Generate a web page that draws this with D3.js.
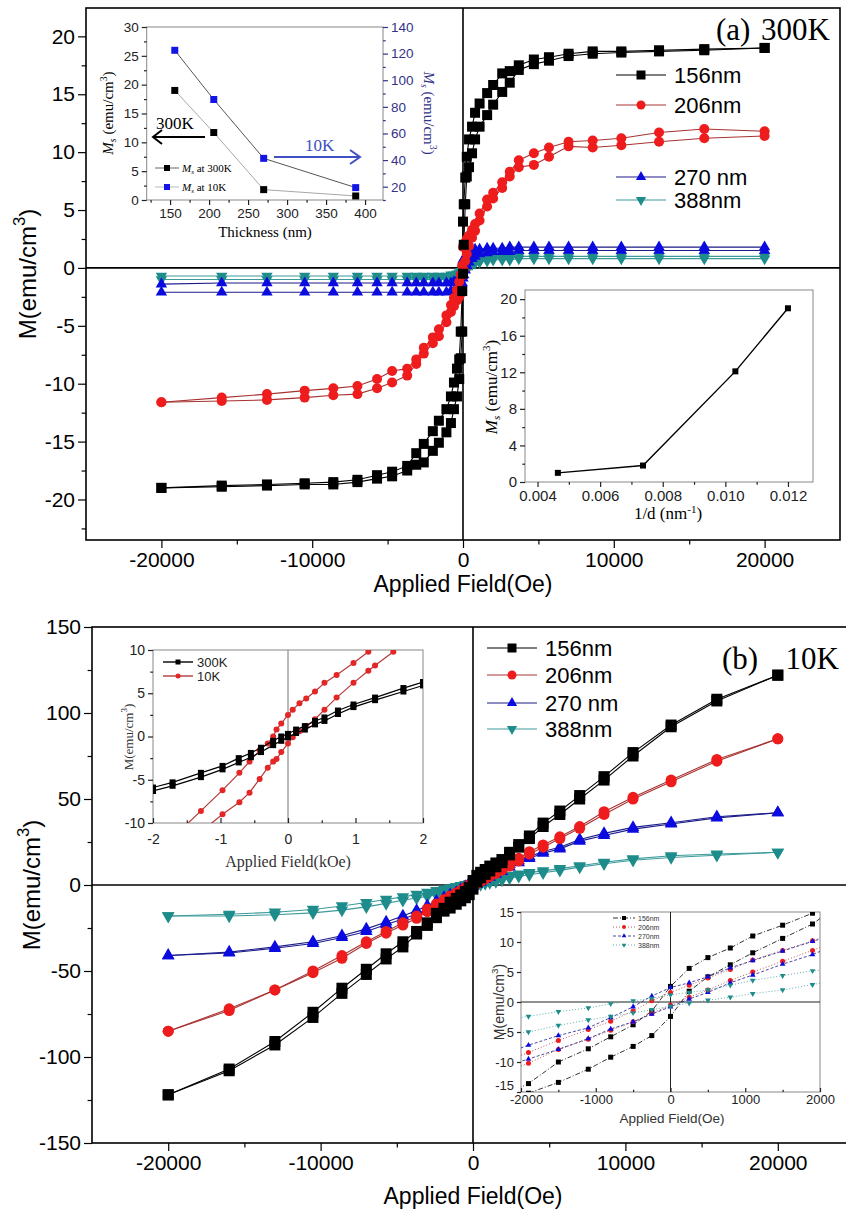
<!DOCTYPE html>
<html>
<head>
<meta charset="utf-8">
<script src="https://cdn.jsdelivr.net/npm/d3@7"></script>
<style>
  body { margin: 0; background: #fff; }
  text { font-family: "Liberation Sans", Arial, sans-serif; }
  .serif { font-family: "Liberation Serif", "Times New Roman", serif; }
</style>
</head>
<body>
<svg id="chart"></svg>
<script>
// ---------- data ----------
// (a) 300K loops, field in Oe (descending order), M in emu/cm3
let fieldsA = [20000, 16000, 13000, 10500, 8600, 7000, 5700, 4700, 3700, 3100, 2600, 2000, 1600, 1100, 800, 600, 400, 250, 150, 50, 0,
               -50, -150, -250, -400, -600, -800, -1100, -1600, -2000, -2600, -3100, -3700, -4700, -5700, -7000, -8600, -10500, -13000, -16000, -20000];
let m156aDown = [19.0, 18.9, 18.8, 18.7, 18.7, 18.5, 18.2, 18.0, 17.5, 17.0, 16.8, 15.8, 15.1, 14.2, 13.4, 12.2, 11.1, 9.6, 7.8, 5.5, 4.0,
                 -2.0, -5.5, -7.9, -8.7, -9.9, -11.1, -12.2, -13.2, -14.1, -15.2, -16.0, -17.1, -17.6, -17.9, -18.3, -18.5, -18.6, -18.7, -18.8, -19.0];
let m156aUp = [19.0, 18.8, 18.7, 18.6, 18.5, 18.3, 17.9, 17.6, 17.1, 16.0, 15.2, 14.1, 13.2, 12.2, 11.1, 9.9, 8.7, 7.9, 5.5, 2.0, -0.5,
               -5.5, -7.8, -9.6, -11.1, -12.2, -13.4, -14.2, -15.1, -15.8, -16.8, -17.0, -17.5, -18.0, -18.2, -18.5, -18.7, -18.7, -18.8, -18.9, -19.0];
let m206aDown = [11.8, 12.0, 11.7, 11.2, 11.0, 10.9, 10.4, 9.9, 9.3, 8.3, 7.4, 6.5, 5.9, 4.7, 3.8, 3.3, 2.8, 2.5, 2.2, 2.0, 1.8,
                 0.2, -0.6, -1.2, -1.9, -2.6, -3.2, -4.1, -5.3, -6.0, -6.9, -7.9, -8.7, -8.9, -9.6, -10.2, -10.4, -10.6, -10.9, -11.2, -11.6];
let m206aUp = [11.4, 11.2, 10.9, 10.6, 10.4, 10.5, 9.6, 8.9, 8.7, 7.9, 6.9, 6.0, 5.3, 4.1, 3.2, 2.6, 1.9, 1.2, 0.6, -0.2, -0.6,
               -2.0, -2.2, -2.5, -2.8, -3.3, -3.8, -4.7, -5.9, -6.5, -7.4, -8.3, -9.3, -9.9, -10.4, -10.9, -11.0, -11.2, -11.4, -11.5, -11.6];
let m270aDown = [1.8, 1.8, 1.8, 1.8, 1.8, 1.8, 1.8, 1.8, 1.8, 1.8, 1.7, 1.7, 1.7, 1.6, 1.6, 1.5, 1.4, 1.2, 1.0, 0.8, 0.6,
                 -0.2, -0.6, -0.9, -1.1, -1.2, -1.3, -1.3, -1.3, -1.3, -1.3, -1.3, -1.3, -1.3, -1.3, -1.3, -1.3, -1.3, -1.3, -1.3, -1.4];
let m270aUp = [1.5, 1.5, 1.5, 1.5, 1.5, 1.5, 1.5, 1.5, 1.5, 1.4, 1.4, 1.4, 1.3, 1.2, 1.0, 0.8, 0.5, 0.2, -0.2, -0.6, -0.9,
               -1.3, -1.6, -1.8, -1.9, -2.0, -2.0, -2.1, -2.1, -2.1, -2.1, -2.1, -2.1, -2.1, -2.1, -2.1, -2.1, -2.1, -2.1, -2.1, -2.1];
let m388aDown = [1.0, 1.0, 1.0, 1.0, 1.0, 1.0, 1.0, 1.0, 1.0, 1.0, 0.9, 0.9, 0.9, 0.8, 0.8, 0.7, 0.6, 0.5, 0.4, 0.3, 0.2,
                 -0.1, -0.3, -0.4, -0.5, -0.6, -0.6, -0.7, -0.7, -0.7, -0.7, -0.7, -0.7, -0.7, -0.7, -0.7, -0.7, -0.7, -0.7, -0.7, -0.7];
let m388aUp = [0.8, 0.8, 0.8, 0.8, 0.8, 0.8, 0.8, 0.8, 0.8, 0.7, 0.7, 0.7, 0.6, 0.5, 0.4, 0.3, 0.1, 0.0, -0.2, -0.4, -0.5,
               -0.7, -0.8, -0.9, -0.9, -1.0, -1.0, -1.0, -1.0, -1.0, -1.0, -1.0, -1.0, -1.0, -1.0, -1.0, -1.0, -1.0, -1.0, -1.0, -1.0];

// (b) 10K loops
let fieldsB = [20000, 16000, 13000, 10500, 8600, 7000, 5700, 4600, 3700, 3000, 2400, 1900, 1500, 1100, 800, 500, 250, 0,
               -250, -500, -800, -1100, -1500, -1900, -2400, -3000, -3700, -4600, -5700, -7000, -8600, -10500, -13000, -16000, -20000];
let m156bDown = [122, 108, 93, 77, 63, 52, 43, 36, 28.5, 23.5, 19, 14.8, 12.8, 11.0, 9.0, 7.4, 5.6, 2.6,
                 -1.5, -3.8, -5.8, -7.8, -10.0, -13.6, -16.5, -22, -27, -33, -40, -49, -60, -74, -91, -107, -122];
let m156bUp = [122, 107, 92, 75, 61, 50, 41, 34, 27, 22, 17.5, 13.0, 10.6, 8.2, 6.2, 4.2, 1.8, -2.4,
               -5.6, -7.4, -9.2, -11.2, -13.4, -15.2, -19, -23.5, -28.5, -36, -43, -52, -63, -77, -93, -108, -122];
let m206bDown = [85, 73, 61, 51, 42.6, 34, 28, 23.3, 19.4, 15.5, 12.5, 10.2, 8.6, 7.0, 5.4, 4.0, 2.8, 1.6,
                 0.2, -1.5, -3.2, -4.6, -6.4, -8.4, -11, -14, -18, -22, -27, -33, -41, -50, -61, -72, -85];
let m206bUp = [85, 72, 60, 50, 41, 33, 27, 22, 18, 14, 11, 8.6, 6.8, 5.0, 3.6, 2.0, 0.8, -0.5,
               -1.9, -3.3, -4.7, -6.2, -7.9, -10.2, -12.5, -15.5, -19.4, -23.3, -28, -34, -42.6, -51, -61, -73, -85];
let m270bDown = [42, 39.7, 36.2, 33.5, 30, 26.5, 22, 19.5, 16.5, 14.2, 12, 10.1, 8.5, 6.9, 5.7, 4.2, 3.2, 2.4,
                 1.0, -0.8, -2.6, -4.3, -5.6, -7.2, -9.5, -12, -14.8, -18, -21.5, -25.5, -29.5, -33, -36, -39, -41];
let m270bUp = [42, 39, 35.5, 32.5, 28.8, 25.5, 21, 18.5, 15.5, 13, 10.5, 7.9, 6.3, 4.5, 3.2, 1.6, 0.5, -0.8,
               -2.0, -3.3, -4.5, -6.1, -7.9, -9.5, -11.5, -14, -16.8, -19.8, -23, -27, -30.5, -34, -36.8, -39.5, -41];
let m388bDown = [19, 18, 17, 15.2, 13.2, 11.2, 9.5, 8.2, 7.2, 6.3, 5.6, 5.2, 4.4, 3.6, 2.8, 2.0, 1.6, 1.2,
                 0.6, 0.2, -0.3, -1.0, -1.6, -2.4, -3.3, -4.3, -5.5, -6.9, -8.4, -10.2, -12.2, -14.2, -15.8, -17, -18];
let m388bUp = [19, 17.3, 16, 14.4, 12.4, 10.4, 8.5, 7.1, 6.0, 5.0, 4.0, 2.9, 2.0, 1.4, 0.8, 0.3, -0.2, -0.7,
               -1.3, -1.8, -2.4, -3.0, -3.9, -5.0, -5.8, -6.6, -7.6, -8.9, -10.7, -12.7, -14.6, -16.2, -17.3, -18, -18];

// inset (a) top: Ms vs thickness
let thickness = [156, 206, 270, 388];
let ms300 = [19.0, 11.7, 1.8, 0.7];
let ms10 = [122.5, 85.5, 41.3, 19.3];

// inset (a) bottom: Ms vs 1/d
let invD = [0.00465, 0.00737, 0.01032, 0.0120];
let msInv = [1.0, 1.8, 12.1, 19.0];

// inset (b) top: 300K vs 10K, field in kOe
let fieldsK300 = [2, 1.71, 1.29, 0.97, 0.74, 0.54, 0.4, 0.25, 0.12, 0, -0.1, -0.22, -0.4, -0.55, -0.73, -0.97, -1.29, -1.71, -2];
let m300Down = [6.3, 5.6, 4.5, 3.7, 3.0, 2.2, 1.8, 1.2, 0.8, 0.3, 0.0, -0.5, -1.3, -1.9, -2.5, -3.4, -4.2, -5.3, -5.9];
let m300Up = [5.9, 5.2, 4.2, 3.4, 2.6, 1.8, 1.4, 0.8, 0.4, -0.1, -0.5, -1.0, -1.8, -2.4, -3.0, -3.8, -4.7, -5.7, -6.3];
let fieldsK10 = [2, 1.56, 1.29, 1.19, 0.97, 0.72, 0.54, 0.4, 0.27, 0.17, 0.07, 0, -0.1, -0.17, -0.22, -0.3, -0.42, -0.57, -0.72, -0.97, -1.29, -1.56, -2];
let m10Down = [13.5, 11.4, 10.4, 9.8, 8.5, 7.1, 6.2, 5.2, 4.4, 3.85, 3.1, 2.5, 1.5, 0.8, 0.0, -0.8, -1.6, -2.9, -4.2, -6.2, -8.6, -10.6, -13.5];
let m10Up = [12.8, 9.8, 8.2, 7.6, 6.2, 4.5, 3.1, 2.0, 1.2, 0.6, -0.1, -0.8, -1.8, -2.6, -2.9, -3.6, -4.9, -6.5, -7.6, -9.0, -11.0, -12.2, -14.0];

let seriesNames = ['156nm', '206nm', '270 nm', '388nm'];
let seriesNamesInset = ['156nm', '206nm', '270nm', '388nm'];

// ---------- styles ----------
let styles = [
  { type: 'square', fill: '#000000', line: '#000000' },
  { type: 'circle', fill: '#ee1c1c', line: '#a83232' },
  { type: 'up',     fill: '#0b0be0', line: '#1c1c8a' },
  { type: 'down',   fill: '#1f8c8c', line: '#3c9a9a' }
];
let seriesA = [[m156aDown, m156aUp], [m206aDown, m206aUp], [m270aDown, m270aUp], [m388aDown, m388aUp]];
let seriesB = [[m156bDown, m156bUp], [m206bDown, m206bUp], [m270bDown, m270bUp], [m388bDown, m388bUp]];

let width = 846;
let height = 1214;
let svg = d3.select('#chart').attr('width', width).attr('height', height);

let plain = d => String(d);   // "-20000", plain hyphen, no grouping

let sym = (type, s) => {
  if (type === 'square') return d3.symbol(d3.symbolSquare, s * s)();
  if (type === 'circle') return d3.symbol(d3.symbolCircle, Math.PI * s * s / 4)();
  return d3.symbol(d3.symbolTriangle, 0.56 * s * s)();
};

let drawMarkers = (g, pts, x, y, st, size) => {
  g.selectAll(null)
   .data(pts)
   .enter()
   .append('path')
   .attr('d', sym(st.type, size))
   .attr('transform', d => `translate(${x(d[0])},${y(d[1])})` + (st.type === 'down' ? ' rotate(180)' : ''))
   .attr('fill', st.fill);
};

let drawLine = (g, pts, x, y, color, w, dash) => {
  let line = d3.line().x(d => x(d[0])).y(d => y(d[1]));
  g.append('path')
   .attr('d', line(pts))
   .attr('fill', 'none')
   .attr('stroke', color)
   .attr('stroke-width', w)
   .attr('stroke-dasharray', dash || null);
};

// axis helper: major ticks with labels, minor ticks without
let drawAxis = (g, axisFn, scale, pos, major, minor, size, fontSize, color, fmt) => {
  let ga = g.append('g');
  if (axisFn === d3.axisLeft || axisFn === d3.axisRight) ga.attr('transform', `translate(${pos},0)`);
  else ga.attr('transform', `translate(0,${pos})`);
  let ax = axisFn(scale).tickValues(major).tickSize(size).tickSizeOuter(0).tickPadding(3).tickFormat(fmt || plain);
  ga.call(ax);
  let gm = g.append('g').attr('transform', ga.attr('transform'));
  gm.call(axisFn(scale).tickValues(minor).tickSize(size * 0.55).tickSizeOuter(0).tickFormat(''));
  [ga, gm].forEach(s => {
    s.select('.domain').remove();
    s.selectAll('line').attr('stroke', color).attr('stroke-width', 1.2);
  });
  ga.selectAll('text')
    .attr('font-size', fontSize)
    .attr('fill', color)
    .style('font-family', '"Liberation Sans", Arial, sans-serif');
  return ga;
};

let yLabel = (g, x, y, size, rot, cls, color) => {
  let t = g.append('text')
           .attr('transform', `translate(${x},${y}) rotate(${rot})`)
           .attr('text-anchor', 'middle')
           .attr('font-size', size)
           .attr('fill', color || '#000');
  if (cls) t.attr('class', cls);
  return t;
};

let msLabel = (t, size) => {
  t.append('tspan').attr('font-style', 'italic').text('M');
  t.append('tspan').attr('font-style', 'italic').attr('font-size', size * 0.65).attr('dy', 3).text('s');
  t.append('tspan').attr('dy', -3).text(' (emu/cm');
  t.append('tspan').attr('font-size', size * 0.65).attr('dy', -size * 0.4).text('3');
  t.append('tspan').attr('dy', size * 0.4).text(')');
};

let mLabel = (t, size) => {
  t.append('tspan').text('M(emu/cm');
  t.append('tspan').attr('font-size', size * 0.7).attr('dy', -size * 0.45).text('3');
  t.append('tspan').attr('dy', size * 0.45).text(')');
};

// ---------- main panels ----------
let drawMain = (cfg) => {
  let g = svg.append('g');
  let x = cfg.x, y = cfg.y;
  let [x0, x1] = x.range();
  let [y1, y0] = y.range();
  let clipId = cfg.id + '-clip';
  svg.append('clipPath').attr('id', clipId)
     .append('rect').attr('x', x0).attr('y', y0).attr('width', x1 - x0).attr('height', y1 - y0);

  g.append('line').attr('x1', x0).attr('x2', x1).attr('y1', y(0)).attr('y2', y(0)).attr('stroke', '#000').attr('stroke-width', 1.6);
  g.append('line').attr('x1', x(0)).attr('x2', x(0)).attr('y1', y0).attr('y2', y1).attr('stroke', '#000').attr('stroke-width', 1.6);

  let gd = g.append('g').attr('clip-path', `url(#${clipId})`);
  cfg.series.forEach((s, i) => {
    let st = styles[i];
    let down = cfg.fields.map((f, k) => [f, s[0][k]]);
    let up = cfg.fields.map((f, k) => [f, s[1][k]]);
    drawLine(gd, down, x, y, st.line, 1.1);
    drawLine(gd, up, x, y, st.line, 1.1);
  });
  cfg.series.slice().reverse().forEach((s, j) => {
    let st = styles[3 - j];
    drawMarkers(gd, cfg.fields.map((f, k) => [f, s[1][k]]), x, y, st, cfg.msize);
    drawMarkers(gd, cfg.fields.map((f, k) => [f, s[0][k]]), x, y, st, cfg.msize);
  });

  g.append('rect').attr('x', x0).attr('y', y0).attr('width', x1 - x0).attr('height', y1 - y0)
   .attr('fill', 'none').attr('stroke', '#000').attr('stroke-width', 1.6);

  drawAxis(g, d3.axisLeft, y, x0, cfg.yMajor, cfg.yMinor, 8, 21, '#000');
  let gx = drawAxis(g, d3.axisBottom, x, y1, [-20000, -10000, 0, 10000, 20000], [-15000, -5000, 5000, 15000], 8, 21, '#000');
  gx.selectAll('text').attr('dy', '0.78em');

  g.append('text').attr('x', x(0)).attr('y', cfg.titleY).attr('text-anchor', 'middle')
   .attr('font-size', 23).text('Applied Field(Oe)');
  mLabel(yLabel(g, cfg.yLabX, (y0 + y1) / 2, 24, -90), 24);

  // legend
  cfg.legendY.forEach((ly, i) => {
    let st = styles[i];
    g.append('line').attr('x1', cfg.legendX).attr('x2', cfg.legendX + 50).attr('y1', ly).attr('y2', ly)
     .attr('stroke', st.line).attr('stroke-width', 1.2);
    drawMarkers(g, [[0, 0]], () => cfg.legendX + 25, () => ly, st, 9);
    g.append('text').attr('x', cfg.legendX + 58).attr('y', ly + 7.5).attr('font-size', 22).text(seriesNames[i]);
  });

  g.append('text').attr('class', 'serif').attr('x', cfg.tagX).attr('y', cfg.tagY).attr('font-size', 31).text(cfg.tag);
  g.append('text').attr('class', 'serif').attr('x', cfg.tagEnd).attr('y', cfg.tagY).attr('text-anchor', 'end')
   .attr('font-size', 31).text(cfg.temp);
  return g;
};

let xA = d3.scaleLinear().domain([-25000, 25000]).range([86, 840]);
let yA = d3.scaleLinear().domain([-23.5, 22.45]).range([540, 8]);
drawMain({
  id: 'pa', x: xA, y: yA, fields: fieldsA, series: seriesA, msize: 10,
  yMajor: [-20, -15, -10, -5, 0, 5, 10, 15, 20],
  yMinor: [-22.5, -17.5, -12.5, -7.5, -2.5, 2.5, 7.5, 12.5, 17.5],
  titleY: 592, yLabX: 36,
  legendX: 616, legendY: [75, 105, 177, 200],
  tag: '(a)', temp: '300K', tagX: 716, tagEnd: 830, tagY: 40
});

let xB = d3.scaleLinear().domain([-25000, 25000]).range([92, 854]);
let yB = d3.scaleLinear().domain([-150, 150]).range([1143, 627]);
drawMain({
  id: 'pb', x: xB, y: yB, fields: fieldsB, series: seriesB, msize: 11,
  yMajor: [-150, -100, -50, 0, 50, 100, 150],
  yMinor: [-125, -75, -25, 25, 75, 125],
  titleY: 1204, yLabX: 40,
  legendX: 487, legendY: [648, 675, 703, 729],
  tag: '(b)', temp: '10K', tagX: 722, tagEnd: 839, tagY: 669
});

// ---------- inset (a) top: Ms vs thickness ----------
{
  let g = svg.append('g');
  let x = d3.scaleLinear().domain([120, 423]).range([146.7, 383]);
  let yl = d3.scaleLinear().domain([0, 30]).range([200, 27]);
  let yr = d3.scaleLinear().domain([10, 140]).range([200, 27]);
  g.append('rect').attr('x', 146.7).attr('y', 27).attr('width', 383 - 146.7).attr('height', 173)
   .attr('fill', '#fff').attr('stroke', '#888').attr('stroke-width', 1);
  drawAxis(g, d3.axisLeft, yl, 146.7, [0, 5, 10, 15, 20, 25, 30], [2.5, 7.5, 12.5, 17.5, 22.5, 27.5], 5, 13.5, '#222');
  drawAxis(g, d3.axisRight, yr, 383, [20, 40, 60, 80, 100, 120, 140], [10, 30, 50, 70, 90, 110, 130], 5, 13.5, '#33338a');
  drawAxis(g, d3.axisBottom, x, 200, [150, 200, 250, 300, 350, 400], [125, 175, 225, 275, 325, 375], 5, 13.5, '#222');

  let p300 = thickness.map((t, i) => [t, ms300[i]]);
  let p10 = thickness.map((t, i) => [t, ms10[i]]);
  drawLine(g, p300, x, yl, '#a8a8a8', 1);
  drawLine(g, p10, x, yr, '#555', 1);
  drawMarkers(g, p300, x, yl, { type: 'square', fill: '#000' }, 7);
  drawMarkers(g, p10, x, yr, { type: 'square', fill: '#1414e6' }, 7);

  // legend
  [[168, '#000', '#666', 'at 300K'], [187, '#1414e6', '#bbb', 'at 10K']].forEach(([ly, c, lc, txt]) => {
    g.append('line').attr('x1', 155).attr('x2', 179).attr('y1', ly).attr('y2', ly).attr('stroke', lc);
    drawMarkers(g, [[0, 0]], () => 167, () => ly, { type: 'square', fill: c }, 6);
    let t = g.append('text').attr('class', 'serif').attr('x', 182).attr('y', ly + 4).attr('font-size', 11);
    t.append('tspan').attr('font-style', 'italic').text('M');
    t.append('tspan').attr('font-style', 'italic').attr('font-size', 7).attr('dy', 2).text('s');
    t.append('tspan').attr('dy', -2).text(' ' + txt);
  });

  // arrows and temperature tags
  g.append('text').attr('class', 'serif').attr('x', 156).attr('y', 129).attr('font-size', 17).text('300K');
  g.append('line').attr('x1', 205).attr('x2', 154).attr('y1', 137).attr('y2', 137).attr('stroke', '#000').attr('stroke-width', 2);
  g.append('path').attr('d', 'M162,130 L153,137 L162,144').attr('fill', 'none').attr('stroke', '#000').attr('stroke-width', 2);
  g.append('text').attr('class', 'serif').attr('x', 305).attr('y', 151).attr('font-size', 17).attr('fill', '#4050c0').text('10K');
  g.append('line').attr('x1', 274).attr('x2', 359).attr('y1', 157).attr('y2', 157).attr('stroke', '#4050c0').attr('stroke-width', 2);
  g.append('path').attr('d', 'M350,150 L360,157 L350,164').attr('fill', 'none').attr('stroke', '#4050c0').attr('stroke-width', 2);

  g.append('text').attr('class', 'serif').attr('x', 265).attr('y', 237).attr('text-anchor', 'middle')
   .attr('font-size', 15).text('Thickness (nm)');
  msLabel(yLabel(g, 113, 113, 15, -90, 'serif'), 15);
  msLabel(yLabel(g, 424, 113, 15, 90, 'serif', '#33338a'), 15);
}

// ---------- inset (a) bottom: Ms vs 1/d ----------
{
  let g = svg.append('g');
  let x = d3.scaleLinear().domain([0.0036, 0.0128]).range([525, 813]);
  let y = d3.scaleLinear().domain([0, 21]).range([482, 290]);
  g.append('rect').attr('x', 525).attr('y', 290).attr('width', 288).attr('height', 192)
   .attr('fill', '#fff').attr('stroke', '#888').attr('stroke-width', 1);
  drawAxis(g, d3.axisLeft, y, 525, [0, 4, 8, 12, 16, 20], [2, 6, 10, 14, 18], 5, 15, '#222');
  drawAxis(g, d3.axisBottom, x, 482, [0.004, 0.006, 0.008, 0.010, 0.012], [0.005, 0.007, 0.009, 0.011], 5, 15, '#222', d3.format('.3f'));
  let pts = invD.map((v, i) => [v, msInv[i]]);
  drawLine(g, pts, x, y, '#000', 1.4);
  drawMarkers(g, pts, x, y, { type: 'square', fill: '#000' }, 6);
  let t = g.append('text').attr('class', 'serif').attr('x', 668).attr('y', 519).attr('text-anchor', 'middle').attr('font-size', 17);
  t.append('tspan').text('1/d (nm');
  t.append('tspan').attr('font-size', 11).attr('dy', -6).text('-1');
  t.append('tspan').attr('dy', 6).text(')');
  msLabel(yLabel(g, 497, 387, 17, -90, 'serif'), 17);
}

// ---------- inset (b) top: 300K vs 10K ----------
{
  let g = svg.append('g');
  let x = d3.scaleLinear().domain([-2, 2]).range([153, 423]);
  let y = d3.scaleLinear().domain([-10, 10]).range([823, 650]);
  g.append('rect').attr('x', 153).attr('y', 650).attr('width', 270).attr('height', 173)
   .attr('fill', '#fff').attr('stroke', '#888').attr('stroke-width', 1);
  svg.append('clipPath').attr('id', 'ib1').append('rect').attr('x', 153).attr('y', 650).attr('width', 270).attr('height', 173);
  g.append('line').attr('x1', x(0)).attr('x2', x(0)).attr('y1', 650).attr('y2', 823).attr('stroke', '#777').attr('stroke-width', 1);
  drawAxis(g, d3.axisLeft, y, 153, [-10, -5, 0, 5, 10], [-7.5, -2.5, 2.5, 7.5], 5, 14, '#222');
  drawAxis(g, d3.axisBottom, x, 823, [-2, -1, 0, 1, 2], [-1.5, -0.5, 0.5, 1.5], -5, 14, '#222')
    .selectAll('text').attr('dy', '1.25em');
  let gd = g.append('g').attr('clip-path', 'url(#ib1)');
  let red = { type: 'circle', fill: '#e32626' };
  let blk = { type: 'square', fill: '#000' };
  [m10Down, m10Up].forEach(m => {
    let pts = fieldsK10.map((f, i) => [f, m[i]]);
    drawLine(gd, pts, x, y, '#b53a3a', 1.2);
    drawMarkers(gd, pts, x, y, red, 6);
  });
  [m300Down, m300Up].forEach(m => {
    let pts = fieldsK300.map((f, i) => [f, m[i]]);
    drawLine(gd, pts, x, y, '#000', 1.2);
    drawMarkers(gd, pts, x, y, blk, 6);
  });
  [[662, blk, '#000', '300K'], [676, red, '#b53a3a', '10K']].forEach(([ly, st, lc, txt]) => {
    g.append('line').attr('x1', 163).attr('x2', 193).attr('y1', ly).attr('y2', ly).attr('stroke', lc).attr('stroke-width', 1.4);
    drawMarkers(g, [[0, 0]], () => 178, () => ly, st, 5);
    g.append('text').attr('x', 197).attr('y', ly + 5).attr('font-size', 13).attr('fill', '#222').text(txt);
  });
  g.append('text').attr('class', 'serif').attr('x', 288).attr('y', 867).attr('text-anchor', 'middle')
   .attr('font-size', 16).attr('fill', '#333').text('Applied Field(kOe)');
  mLabel(yLabel(g, 133, 737, 13, -90, 'serif', '#333'), 13);
}

// ---------- inset (b) bottom: low field detail ----------
{
  let g = svg.append('g');
  let x = d3.scaleLinear().domain([-2000, 2000]).range([521, 820]);
  let y = d3.scaleLinear().domain([-15, 15]).range([1092, 912]);
  g.append('rect').attr('x', 521).attr('y', 912).attr('width', 299).attr('height', 180)
   .attr('fill', '#fff').attr('stroke', '#888').attr('stroke-width', 1);
  svg.append('clipPath').attr('id', 'ib2').append('rect').attr('x', 521).attr('y', 912).attr('width', 299).attr('height', 180);
  g.append('line').attr('x1', 521).attr('x2', 820).attr('y1', y(0)).attr('y2', y(0)).attr('stroke', '#222').attr('stroke-width', 1);
  g.append('line').attr('x1', x(0)).attr('x2', x(0)).attr('y1', 912).attr('y2', 1092).attr('stroke', '#222').attr('stroke-width', 1);
  drawAxis(g, d3.axisLeft, y, 521, [-15, -10, -5, 0, 5, 10, 15], [], 4, 13, '#222')
    .selectAll('text').filter(d => d === -15).attr('dy', '-0.2em');
  let gxi = drawAxis(g, d3.axisBottom, x, 1092, [-2000, -1000, 0, 1000, 2000], [-1500, -500, 500, 1500], -4, 13, '#222');
  gxi.selectAll('text').attr('dy', '0.72em');
  gxi.selectAll('text').filter(d => d === -2000).attr('dx', 5);
  let gd = g.append('g').attr('clip-path', 'url(#ib2)');
  let dashes = ['5,2,1,2', '1,2', '3,2', '1,2'];
  seriesB.forEach((s, i) => {
    let st = styles[i];
    [s[0], s[1]].forEach(m => {
      let pts = fieldsB.map((f, k) => [f, m[k]]);
      drawLine(gd, pts, x, y, st.line, 0.8, dashes[i]);
      drawMarkers(gd, pts.filter(d => Math.abs(d[0]) <= 2000), x, y, st, 5);
    });
  });
  seriesNamesInset.forEach((n, i) => {
    let ly = 918 + i * 9;
    let st = styles[i];
    g.append('line').attr('x1', 613).attr('x2', 635).attr('y1', ly).attr('y2', ly).attr('stroke', st.line)
     .attr('stroke-width', 0.8).attr('stroke-dasharray', dashes[i]);
    drawMarkers(g, [[0, 0]], () => 624, () => ly, st, 4);
    g.append('text').attr('x', 638).attr('y', ly + 2.5).attr('font-size', 7).attr('fill', '#333').text(n);
  });
  g.append('text').attr('x', 672).attr('y', 1123).attr('text-anchor', 'middle').attr('font-size', 13.5).attr('fill', '#333')
   .text('Applied Field(Oe)');
  mLabel(yLabel(g, 504, 1002, 14, -90, null, '#333'), 14);
}
</script>
</body>
</html>
